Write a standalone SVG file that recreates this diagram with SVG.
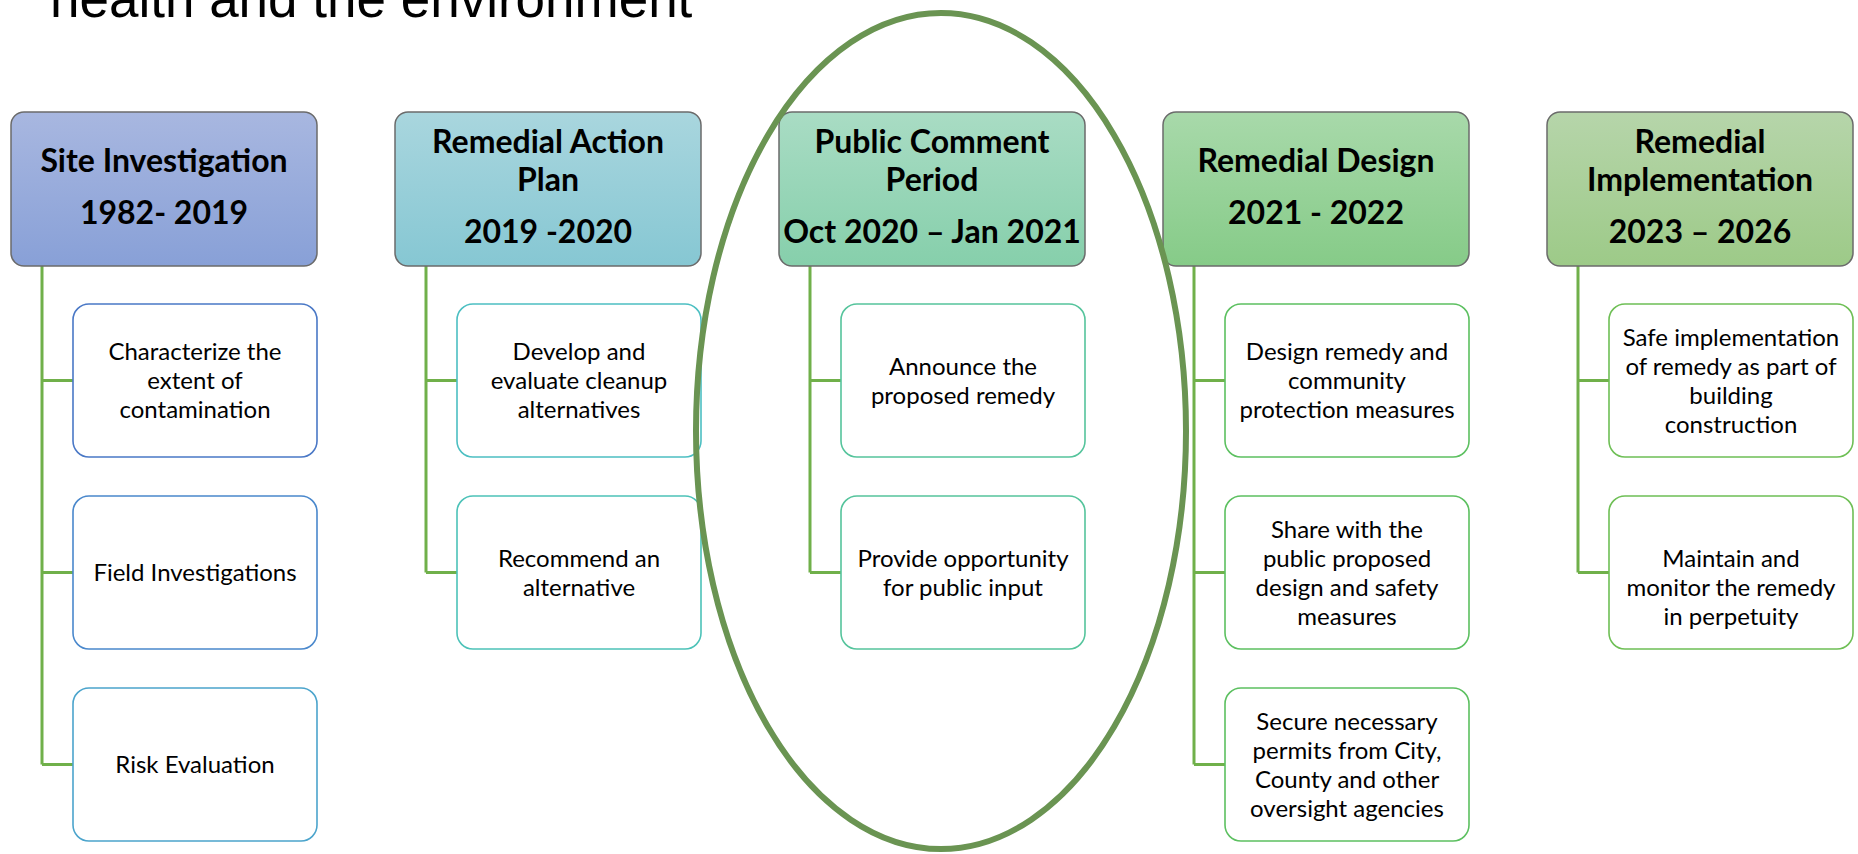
<svg xmlns="http://www.w3.org/2000/svg" width="1858" height="854" viewBox="0 0 1858 854">
<style>
.title{font-family:"Liberation Sans",Arial,sans-serif;font-size:53px;fill:#000}
.ht{font-family:Lato,"Liberation Sans",sans-serif;font-weight:bold;font-size:32px;fill:#000;text-anchor:middle}
.ct{font-family:Lato,"Liberation Sans",sans-serif;font-size:24px;fill:#000;text-anchor:middle}
.hdr{stroke:#6b6b6b;stroke-width:1.5}
.child{fill:#fff;stroke-width:1.6}
.conn{fill:none;stroke:#70b04a;stroke-width:3}
</style>
<defs>
<linearGradient id="g1" x1="0" y1="0" x2="0" y2="1"><stop offset="0" stop-color="#a8b7e0"/><stop offset="1" stop-color="#88a0d7"/></linearGradient>
<linearGradient id="g2" x1="0" y1="0" x2="0" y2="1"><stop offset="0" stop-color="#a9d6de"/><stop offset="1" stop-color="#86c7d3"/></linearGradient>
<linearGradient id="g3" x1="0" y1="0" x2="0" y2="1"><stop offset="0" stop-color="#a9dcc4"/><stop offset="1" stop-color="#86cfab"/></linearGradient>
<linearGradient id="g4" x1="0" y1="0" x2="0" y2="1"><stop offset="0" stop-color="#a8d9aa"/><stop offset="1" stop-color="#86cb88"/></linearGradient>
<linearGradient id="g5" x1="0" y1="0" x2="0" y2="1"><stop offset="0" stop-color="#b6d5aa"/><stop offset="1" stop-color="#9dca88"/></linearGradient>
</defs>
<rect width="1858" height="854" fill="#fff"/>
<text class="title" x="50" y="17">health and the environment</text>

<g id="connectors">
<path class="conn" d="M42,266 V764.5 M42,380.5 H73 M42,572.5 H73 M42,764.5 H73"/>
<path class="conn" d="M426,266 V572.5 M426,380.5 H457 M426,572.5 H457"/>
<path class="conn" d="M810,266 V572.5 M810,380.5 H841 M810,572.5 H841"/>
<path class="conn" d="M1194,266 V764.5 M1194,380.5 H1225 M1194,572.5 H1225 M1194,764.5 H1225"/>
<path class="conn" d="M1578,266 V572.5 M1578,380.5 H1609 M1578,572.5 H1609"/>
</g>

<g id="h1"><rect class="hdr" x="11" y="112" width="306" height="154" rx="13" fill="url(#g1)"/>
<text class="ht" x="164" y="172">Site Investigation</text><text class="ht" x="164" y="224">1982- 2019</text></g>
<g id="h2"><rect class="hdr" x="395" y="112" width="306" height="154" rx="13" fill="url(#g2)"/>
<text class="ht" x="548" y="153">Remedial Action</text><text class="ht" x="548" y="191">Plan</text><text class="ht" x="548" y="243">2019 -2020</text></g>
<g id="h3"><rect class="hdr" x="779" y="112" width="306" height="154" rx="13" fill="url(#g3)"/>
<text class="ht" x="932" y="153">Public Comment</text><text class="ht" x="932" y="191">Period</text><text class="ht" x="932" y="243">Oct 2020 – Jan 2021</text></g>
<g id="h4"><rect class="hdr" x="1163" y="112" width="306" height="154" rx="13" fill="url(#g4)"/>
<text class="ht" x="1316" y="172">Remedial Design</text><text class="ht" x="1316" y="224">2021 - 2022</text></g>
<g id="h5"><rect class="hdr" x="1547" y="112" width="306" height="154" rx="13" fill="url(#g5)"/>
<text class="ht" x="1700" y="153">Remedial</text><text class="ht" x="1700" y="191">Implementation</text><text class="ht" x="1700" y="243">2023 – 2026</text></g>

<g id="c1a"><rect class="child" x="73" y="304" width="244" height="153" rx="16" stroke="#4a78c6"/>
<text class="ct" x="195" y="360">Characterize the</text><text class="ct" x="195" y="389">extent of</text><text class="ct" x="195" y="418">contamination</text></g>
<g id="c1b"><rect class="child" x="73" y="496" width="244" height="153" rx="16" stroke="#4a88cc"/>
<text class="ct" x="195" y="581">Field Investigations</text></g>
<g id="c1c"><rect class="child" x="73" y="688" width="244" height="153" rx="16" stroke="#4ba4cc"/>
<text class="ct" x="195" y="773">Risk Evaluation</text></g>

<g id="c2a"><rect class="child" x="457" y="304" width="244" height="153" rx="16" stroke="#4cbfc2"/>
<text class="ct" x="579" y="360">Develop and</text><text class="ct" x="579" y="389">evaluate cleanup</text><text class="ct" x="579" y="418">alternatives</text></g>
<g id="c2b"><rect class="child" x="457" y="496" width="244" height="153" rx="16" stroke="#4cc2b8"/>
<text class="ct" x="579" y="566.5">Recommend an</text><text class="ct" x="579" y="595.5">alternative</text></g>

<g id="c3a"><rect class="child" x="841" y="304" width="244" height="153" rx="16" stroke="#55c49c"/>
<text class="ct" x="963" y="374.5">Announce the</text><text class="ct" x="963" y="403.5">proposed remedy</text></g>
<g id="c3b"><rect class="child" x="841" y="496" width="244" height="153" rx="16" stroke="#55c49c"/>
<text class="ct" x="963" y="566.5">Provide opportunity</text><text class="ct" x="963" y="595.5">for public input</text></g>

<g id="c4a"><rect class="child" x="1225" y="304" width="244" height="153" rx="16" stroke="#5cc060"/>
<text class="ct" x="1347" y="360">Design remedy and</text><text class="ct" x="1347" y="389">community</text><text class="ct" x="1347" y="418">protection measures</text></g>
<g id="c4b"><rect class="child" x="1225" y="496" width="244" height="153" rx="16" stroke="#5cc060"/>
<text class="ct" x="1347" y="537.5">Share with the</text><text class="ct" x="1347" y="566.5">public proposed</text><text class="ct" x="1347" y="595.5">design and safety</text><text class="ct" x="1347" y="624.5">measures</text></g>
<g id="c4c"><rect class="child" x="1225" y="688" width="244" height="153" rx="16" stroke="#5cc060"/>
<text class="ct" x="1347" y="729.5">Secure necessary</text><text class="ct" x="1347" y="758.5">permits from City,</text><text class="ct" x="1347" y="787.5">County and other</text><text class="ct" x="1347" y="816.5">oversight agencies</text></g>

<g id="c5a"><rect class="child" x="1609" y="304" width="244" height="153" rx="16" stroke="#6ebf55"/>
<text class="ct" x="1731" y="345.5">Safe implementation</text><text class="ct" x="1731" y="374.5">of remedy as part of</text><text class="ct" x="1731" y="403.5">building</text><text class="ct" x="1731" y="432.5">construction</text></g>
<g id="c5b"><rect class="child" x="1609" y="496" width="244" height="153" rx="16" stroke="#6ebf55"/>
<text class="ct" x="1731" y="566.5">Maintain and</text><text class="ct" x="1731" y="595.5">monitor the remedy</text><text class="ct" x="1731" y="624.5">in perpetuity</text></g>

<g id="highlight"><ellipse cx="941" cy="431" rx="245" ry="418" fill="none" stroke="#6a9452" stroke-width="6"/></g>
</svg>
